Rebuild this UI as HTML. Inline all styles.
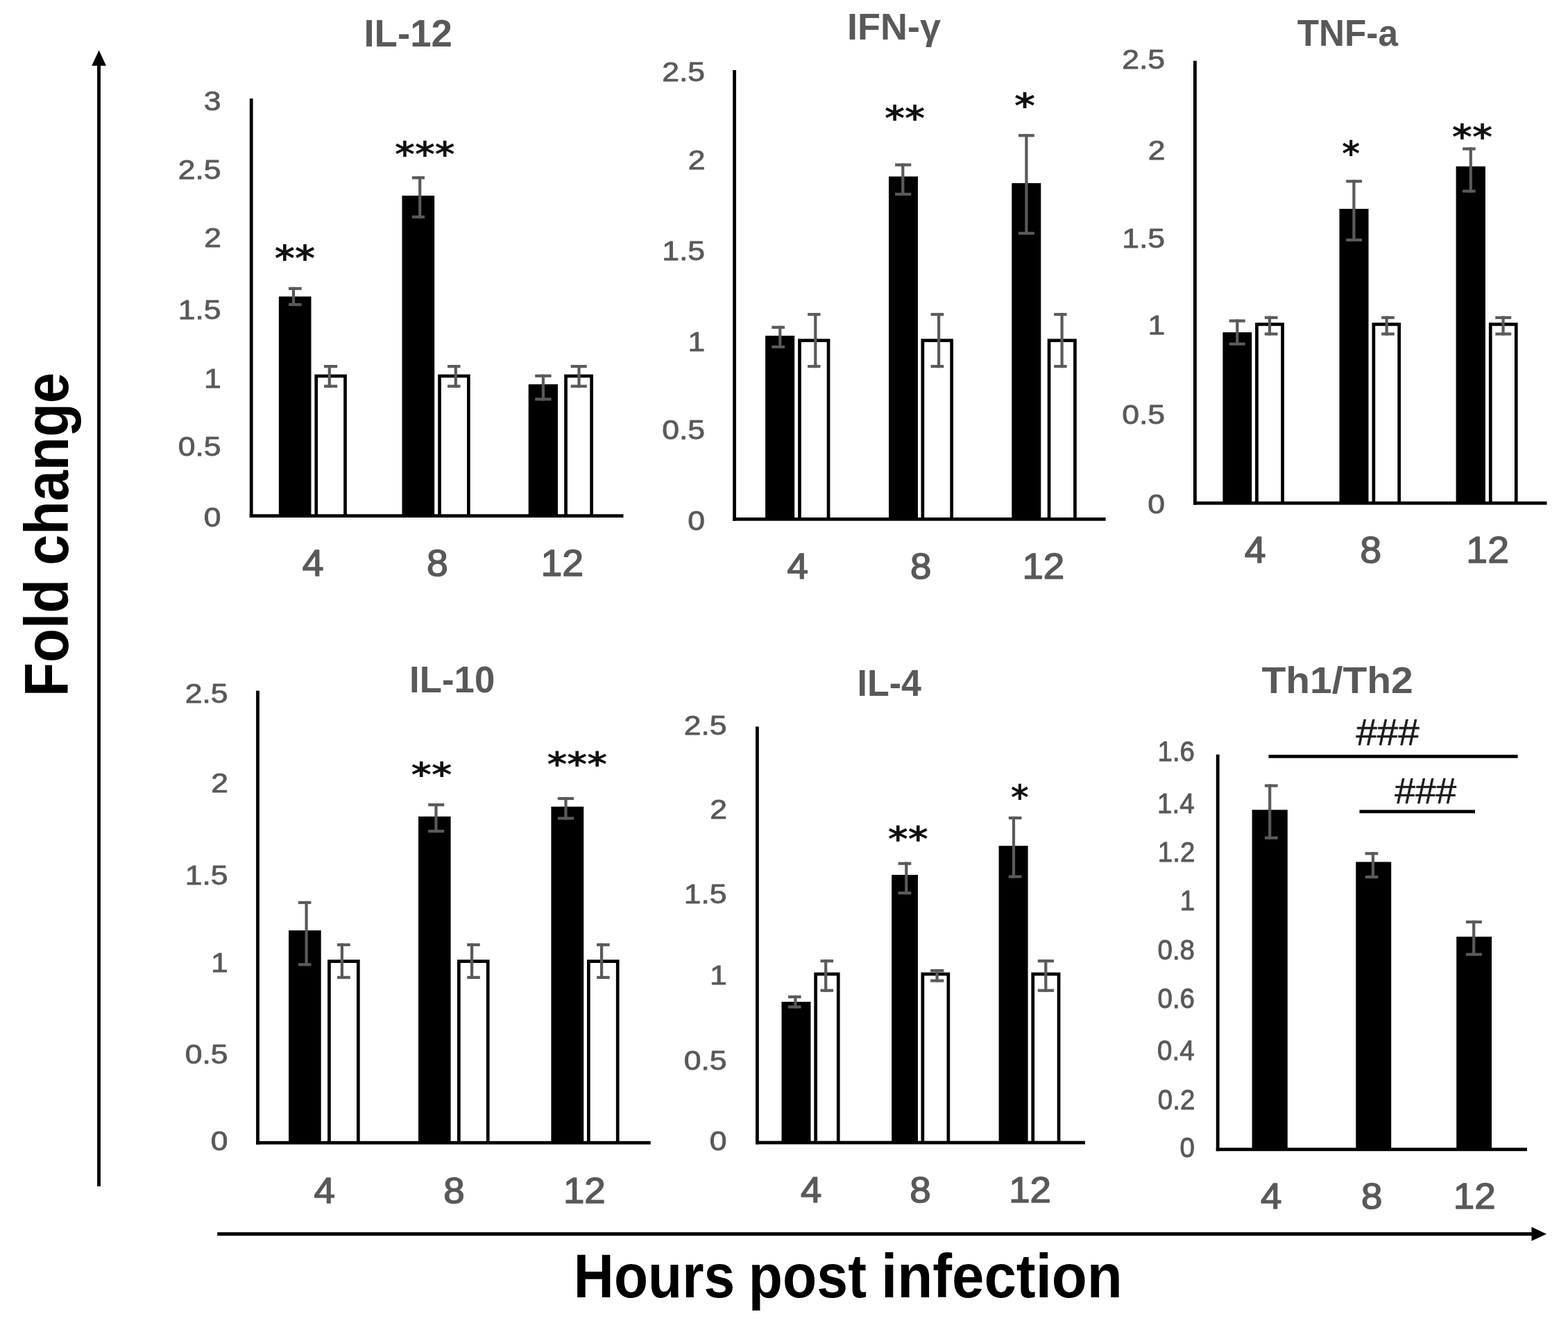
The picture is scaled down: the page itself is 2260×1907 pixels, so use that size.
<!DOCTYPE html>
<html lang="en">
<head>
<meta charset="utf-8">
<title>Cytokine fold change – hours post infection</title>
<style>
html,body{margin:0;padding:0;background:#fff;}
body{width:2260px;height:1907px;}
svg{display:block;}
svg text{font-family:"Liberation Sans",sans-serif;font-size:200px;white-space:pre;}
</style>
</head>
<body>
<svg width="2260" height="1907" viewBox="0 0 2260 1907" shape-rendering="auto">
<rect x="0" y="0" width="2260" height="1907" fill="#fff"/>
<g>
<rect x="401.90" y="427.40" width="46.60" height="316.20" fill="#000"/>
<rect x="453.40" y="539.70" width="46.50" height="203.90" fill="#000"/>
<rect x="458.10" y="544.40" width="37.10" height="199.20" fill="#fff"/>
<rect x="579.50" y="282.00" width="46.70" height="461.60" fill="#000"/>
<rect x="631.20" y="539.70" width="46.50" height="203.90" fill="#000"/>
<rect x="635.90" y="544.40" width="37.10" height="199.20" fill="#fff"/>
<rect x="761.70" y="553.90" width="42.30" height="189.70" fill="#000"/>
<rect x="813.20" y="539.70" width="41.80" height="203.90" fill="#000"/>
<rect x="817.90" y="544.40" width="32.40" height="199.20" fill="#fff"/>
<rect x="359.80" y="142.00" width="4.80" height="604.00" fill="#000"/>
<rect x="359.80" y="741.20" width="538.70" height="4.80" fill="#000"/>
<rect x="420.90" y="413.80" width="4.20" height="27.30" fill="#5a5a5a"/>
<rect x="416.00" y="413.80" width="18.70" height="4.20" fill="#5a5a5a"/>
<rect x="416.00" y="436.90" width="18.70" height="4.20" fill="#5a5a5a"/>
<rect x="472.70" y="526.00" width="4.20" height="32.80" fill="#5a5a5a"/>
<rect x="467.00" y="526.00" width="19.20" height="4.20" fill="#5a5a5a"/>
<rect x="467.00" y="554.60" width="19.20" height="4.20" fill="#5a5a5a"/>
<rect x="603.10" y="254.10" width="4.20" height="60.70" fill="#5a5a5a"/>
<rect x="593.90" y="254.10" width="18.10" height="4.20" fill="#5a5a5a"/>
<rect x="593.90" y="310.60" width="18.10" height="4.20" fill="#5a5a5a"/>
<rect x="654.70" y="526.00" width="4.20" height="32.80" fill="#5a5a5a"/>
<rect x="645.00" y="526.00" width="18.50" height="4.20" fill="#5a5a5a"/>
<rect x="645.00" y="554.60" width="18.50" height="4.20" fill="#5a5a5a"/>
<rect x="780.80" y="539.70" width="4.20" height="37.80" fill="#5a5a5a"/>
<rect x="771.20" y="539.70" width="23.40" height="4.20" fill="#5a5a5a"/>
<rect x="771.20" y="573.30" width="23.40" height="4.20" fill="#5a5a5a"/>
<rect x="832.40" y="526.00" width="4.20" height="32.80" fill="#5a5a5a"/>
<rect x="822.70" y="526.00" width="23.10" height="4.20" fill="#5a5a5a"/>
<rect x="822.70" y="554.60" width="23.10" height="4.20" fill="#5a5a5a"/>
<text transform="translate(293.63 758.61) scale(0.2228 0.1972)" font-weight="normal" fill="#595959" stroke="#595959" stroke-width="4.29" stroke-linejoin="round">0</text>
<text transform="translate(256.64 656.51) scale(0.2228 0.1972)" font-weight="normal" fill="#595959" stroke="#595959" stroke-width="4.29" stroke-linejoin="round">0.5</text>
<text transform="translate(294.07 558.61) scale(0.2228 0.1972)" font-weight="normal" fill="#595959" stroke="#595959" stroke-width="4.29" stroke-linejoin="round">1</text>
<text transform="translate(256.64 459.81) scale(0.2228 0.1972)" font-weight="normal" fill="#595959" stroke="#595959" stroke-width="4.29" stroke-linejoin="round">1.5</text>
<text transform="translate(294.30 356.41) scale(0.2228 0.1972)" font-weight="normal" fill="#595959" stroke="#595959" stroke-width="4.29" stroke-linejoin="round">2</text>
<text transform="translate(256.64 258.31) scale(0.2228 0.1972)" font-weight="normal" fill="#595959" stroke="#595959" stroke-width="4.29" stroke-linejoin="round">2.5</text>
<text transform="translate(293.85 159.11) scale(0.2228 0.1972)" font-weight="normal" fill="#595959" stroke="#595959" stroke-width="4.29" stroke-linejoin="round">3</text>
<text transform="translate(435.69 829.52) scale(0.2773 0.2641)" font-weight="normal" fill="#595959" stroke="#595959" stroke-width="5.54" stroke-linejoin="round">4</text>
<text transform="translate(615.07 829.52) scale(0.2773 0.2641)" font-weight="normal" fill="#595959" stroke="#595959" stroke-width="5.54" stroke-linejoin="round">8</text>
<text transform="translate(779.43 829.52) scale(0.2773 0.2641)" font-weight="normal" fill="#595959" stroke="#595959" stroke-width="5.54" stroke-linejoin="round">12</text>
<text transform="translate(524.45 67.10) scale(0.2731 0.2790)" font-weight="bold" fill="#595959">IL-12</text>
<text transform="translate(395.79 390.02) scale(0.2786 0.2548)" font-weight="bold" fill="#111" style="font-family:'DejaVu Sans',sans-serif">**</text>
<text transform="translate(569.10 239.66) scale(0.2757 0.2484)" font-weight="bold" fill="#111" style="font-family:'DejaVu Sans',sans-serif">***</text>
<rect x="1103.10" y="483.90" width="42.10" height="264.40" fill="#000"/>
<rect x="1150.10" y="488.40" width="46.30" height="259.90" fill="#000"/>
<rect x="1154.80" y="493.10" width="36.90" height="255.20" fill="#fff"/>
<rect x="1281.00" y="254.40" width="42.00" height="493.90" fill="#000"/>
<rect x="1327.50" y="488.40" width="46.50" height="259.90" fill="#000"/>
<rect x="1332.20" y="493.10" width="37.10" height="255.20" fill="#fff"/>
<rect x="1458.30" y="264.00" width="42.00" height="484.30" fill="#000"/>
<rect x="1509.70" y="488.40" width="42.10" height="259.90" fill="#000"/>
<rect x="1514.40" y="493.10" width="32.70" height="255.20" fill="#fff"/>
<rect x="1056.20" y="101.00" width="4.80" height="649.70" fill="#000"/>
<rect x="1056.20" y="745.90" width="537.40" height="4.80" fill="#000"/>
<rect x="1122.20" y="469.70" width="4.20" height="32.40" fill="#5a5a5a"/>
<rect x="1112.30" y="469.70" width="18.70" height="4.20" fill="#5a5a5a"/>
<rect x="1112.30" y="497.90" width="18.70" height="4.20" fill="#5a5a5a"/>
<rect x="1173.20" y="451.10" width="4.20" height="79.10" fill="#5a5a5a"/>
<rect x="1164.10" y="451.10" width="18.40" height="4.20" fill="#5a5a5a"/>
<rect x="1164.10" y="526.00" width="18.40" height="4.20" fill="#5a5a5a"/>
<rect x="1299.20" y="235.50" width="4.20" height="46.50" fill="#5a5a5a"/>
<rect x="1290.10" y="235.50" width="23.20" height="4.20" fill="#5a5a5a"/>
<rect x="1290.10" y="277.80" width="23.20" height="4.20" fill="#5a5a5a"/>
<rect x="1351.00" y="451.10" width="4.20" height="79.10" fill="#5a5a5a"/>
<rect x="1341.60" y="451.10" width="18.70" height="4.20" fill="#5a5a5a"/>
<rect x="1341.60" y="526.00" width="18.70" height="4.20" fill="#5a5a5a"/>
<rect x="1477.30" y="193.20" width="4.20" height="145.20" fill="#5a5a5a"/>
<rect x="1468.00" y="193.20" width="22.80" height="4.20" fill="#5a5a5a"/>
<rect x="1468.00" y="334.20" width="22.80" height="4.20" fill="#5a5a5a"/>
<rect x="1528.50" y="451.10" width="4.20" height="79.10" fill="#5a5a5a"/>
<rect x="1519.20" y="451.10" width="18.40" height="4.20" fill="#5a5a5a"/>
<rect x="1519.20" y="526.00" width="18.40" height="4.20" fill="#5a5a5a"/>
<text transform="translate(991.13 763.81) scale(0.2228 0.1972)" font-weight="normal" fill="#595959" stroke="#595959" stroke-width="4.29" stroke-linejoin="round">0</text>
<text transform="translate(954.14 633.01) scale(0.2228 0.1972)" font-weight="normal" fill="#595959" stroke="#595959" stroke-width="4.29" stroke-linejoin="round">0.5</text>
<text transform="translate(991.57 505.61) scale(0.2228 0.1972)" font-weight="normal" fill="#595959" stroke="#595959" stroke-width="4.29" stroke-linejoin="round">1</text>
<text transform="translate(954.14 375.21) scale(0.2228 0.1972)" font-weight="normal" fill="#595959" stroke="#595959" stroke-width="4.29" stroke-linejoin="round">1.5</text>
<text transform="translate(991.80 244.11) scale(0.2228 0.1972)" font-weight="normal" fill="#595959" stroke="#595959" stroke-width="4.29" stroke-linejoin="round">2</text>
<text transform="translate(954.14 117.41) scale(0.2228 0.1972)" font-weight="normal" fill="#595959" stroke="#595959" stroke-width="4.29" stroke-linejoin="round">2.5</text>
<text transform="translate(1134.39 834.48) scale(0.2736 0.2606)" font-weight="normal" fill="#595959" stroke="#595959" stroke-width="5.62" stroke-linejoin="round">4</text>
<text transform="translate(1311.98 834.48) scale(0.2736 0.2606)" font-weight="normal" fill="#595959" stroke="#595959" stroke-width="5.62" stroke-linejoin="round">8</text>
<text transform="translate(1473.45 834.48) scale(0.2736 0.2606)" font-weight="normal" fill="#595959" stroke="#595959" stroke-width="5.62" stroke-linejoin="round">12</text>
<text transform="translate(1220.99 57.40) scale(0.2698 0.2710)" font-weight="bold" fill="#595959">IFN-γ</text>
<text transform="translate(1274.89 188.40) scale(0.2786 0.2527)" font-weight="bold" fill="#111" style="font-family:'DejaVu Sans',sans-serif">**</text>
<text transform="translate(1462.05 169.64) scale(0.2875 0.2516)" font-weight="bold" fill="#111" style="font-family:'DejaVu Sans',sans-serif">*</text>
<rect x="1762.40" y="479.00" width="41.80" height="246.20" fill="#000"/>
<rect x="1809.10" y="465.10" width="41.80" height="260.10" fill="#000"/>
<rect x="1813.80" y="469.80" width="32.40" height="255.40" fill="#fff"/>
<rect x="1930.50" y="301.00" width="42.00" height="424.20" fill="#000"/>
<rect x="1977.50" y="465.10" width="41.50" height="260.10" fill="#000"/>
<rect x="1982.20" y="469.80" width="32.10" height="255.40" fill="#fff"/>
<rect x="2098.60" y="239.80" width="42.30" height="485.40" fill="#000"/>
<rect x="2145.90" y="465.10" width="41.70" height="260.10" fill="#000"/>
<rect x="2150.60" y="469.80" width="32.30" height="255.40" fill="#fff"/>
<rect x="1720.00" y="87.70" width="4.80" height="639.90" fill="#000"/>
<rect x="1720.00" y="722.80" width="509.50" height="4.80" fill="#000"/>
<rect x="1781.20" y="460.40" width="4.20" height="37.50" fill="#5a5a5a"/>
<rect x="1771.60" y="460.40" width="23.10" height="4.20" fill="#5a5a5a"/>
<rect x="1771.60" y="493.70" width="23.10" height="4.20" fill="#5a5a5a"/>
<rect x="1827.90" y="455.70" width="4.20" height="27.80" fill="#5a5a5a"/>
<rect x="1822.80" y="455.70" width="18.70" height="4.20" fill="#5a5a5a"/>
<rect x="1822.80" y="479.30" width="18.70" height="4.20" fill="#5a5a5a"/>
<rect x="1949.30" y="259.20" width="4.20" height="88.80" fill="#5a5a5a"/>
<rect x="1940.20" y="259.20" width="22.90" height="4.20" fill="#5a5a5a"/>
<rect x="1940.20" y="343.80" width="22.90" height="4.20" fill="#5a5a5a"/>
<rect x="1996.50" y="455.70" width="4.20" height="27.80" fill="#5a5a5a"/>
<rect x="1991.20" y="455.70" width="18.60" height="4.20" fill="#5a5a5a"/>
<rect x="1991.20" y="479.30" width="18.60" height="4.20" fill="#5a5a5a"/>
<rect x="2117.70" y="212.40" width="4.20" height="65.20" fill="#5a5a5a"/>
<rect x="2108.10" y="212.40" width="18.60" height="4.20" fill="#5a5a5a"/>
<rect x="2108.10" y="273.40" width="18.60" height="4.20" fill="#5a5a5a"/>
<rect x="2164.40" y="455.70" width="4.20" height="27.80" fill="#5a5a5a"/>
<rect x="2155.30" y="455.70" width="22.90" height="4.20" fill="#5a5a5a"/>
<rect x="2155.30" y="479.30" width="22.90" height="4.20" fill="#5a5a5a"/>
<text transform="translate(1654.13 739.61) scale(0.2228 0.1972)" font-weight="normal" fill="#595959" stroke="#595959" stroke-width="4.29" stroke-linejoin="round">0</text>
<text transform="translate(1617.14 610.81) scale(0.2228 0.1972)" font-weight="normal" fill="#595959" stroke="#595959" stroke-width="4.29" stroke-linejoin="round">0.5</text>
<text transform="translate(1654.57 482.41) scale(0.2228 0.1972)" font-weight="normal" fill="#595959" stroke="#595959" stroke-width="4.29" stroke-linejoin="round">1</text>
<text transform="translate(1617.14 356.61) scale(0.2228 0.1972)" font-weight="normal" fill="#595959" stroke="#595959" stroke-width="4.29" stroke-linejoin="round">1.5</text>
<text transform="translate(1654.80 230.41) scale(0.2228 0.1972)" font-weight="normal" fill="#595959" stroke="#595959" stroke-width="4.29" stroke-linejoin="round">2</text>
<text transform="translate(1617.14 99.01) scale(0.2228 0.1972)" font-weight="normal" fill="#595959" stroke="#595959" stroke-width="4.29" stroke-linejoin="round">2.5</text>
<text transform="translate(1793.69 811.22) scale(0.2773 0.2641)" font-weight="normal" fill="#595959" stroke="#595959" stroke-width="5.54" stroke-linejoin="round">4</text>
<text transform="translate(1960.27 811.22) scale(0.2773 0.2641)" font-weight="normal" fill="#595959" stroke="#595959" stroke-width="5.54" stroke-linejoin="round">8</text>
<text transform="translate(2113.33 811.22) scale(0.2773 0.2641)" font-weight="normal" fill="#595959" stroke="#595959" stroke-width="5.54" stroke-linejoin="round">12</text>
<text transform="translate(1869.79 65.80) scale(0.2562 0.2725)" font-weight="bold" fill="#595959">TNF-a</text>
<text transform="translate(1934.31 239.08) scale(0.2469 0.2505)" font-weight="bold" fill="#111" style="font-family:'DejaVu Sans',sans-serif">*</text>
<text transform="translate(2092.78 214.90) scale(0.2791 0.2473)" font-weight="bold" fill="#111" style="font-family:'DejaVu Sans',sans-serif">**</text>
<rect x="416.10" y="1341.10" width="46.60" height="306.10" fill="#000"/>
<rect x="472.10" y="1383.30" width="46.60" height="263.90" fill="#000"/>
<rect x="476.80" y="1388.00" width="37.20" height="259.20" fill="#fff"/>
<rect x="603.00" y="1176.90" width="46.60" height="470.30" fill="#000"/>
<rect x="659.00" y="1383.30" width="46.60" height="263.90" fill="#000"/>
<rect x="663.70" y="1388.00" width="37.20" height="259.20" fill="#fff"/>
<rect x="794.40" y="1162.70" width="46.90" height="484.50" fill="#000"/>
<rect x="846.00" y="1383.30" width="46.60" height="263.90" fill="#000"/>
<rect x="850.70" y="1388.00" width="37.20" height="259.20" fill="#fff"/>
<rect x="369.10" y="995.60" width="4.80" height="654.00" fill="#000"/>
<rect x="369.10" y="1644.80" width="568.60" height="4.80" fill="#000"/>
<rect x="439.50" y="1298.90" width="4.20" height="93.50" fill="#5a5a5a"/>
<rect x="429.90" y="1298.90" width="18.60" height="4.20" fill="#5a5a5a"/>
<rect x="429.90" y="1388.20" width="18.60" height="4.20" fill="#5a5a5a"/>
<rect x="490.80" y="1359.70" width="4.20" height="51.30" fill="#5a5a5a"/>
<rect x="486.00" y="1359.70" width="18.80" height="4.20" fill="#5a5a5a"/>
<rect x="486.00" y="1406.80" width="18.80" height="4.20" fill="#5a5a5a"/>
<rect x="626.40" y="1158.00" width="4.20" height="42.20" fill="#5a5a5a"/>
<rect x="617.20" y="1158.00" width="23.00" height="4.20" fill="#5a5a5a"/>
<rect x="617.20" y="1196.00" width="23.00" height="4.20" fill="#5a5a5a"/>
<rect x="678.00" y="1359.70" width="4.20" height="51.30" fill="#5a5a5a"/>
<rect x="673.20" y="1359.70" width="18.60" height="4.20" fill="#5a5a5a"/>
<rect x="673.20" y="1406.80" width="18.60" height="4.20" fill="#5a5a5a"/>
<rect x="813.40" y="1148.90" width="4.20" height="32.70" fill="#5a5a5a"/>
<rect x="803.80" y="1148.90" width="23.30" height="4.20" fill="#5a5a5a"/>
<rect x="803.80" y="1177.40" width="23.30" height="4.20" fill="#5a5a5a"/>
<rect x="865.00" y="1359.70" width="4.20" height="51.30" fill="#5a5a5a"/>
<rect x="860.10" y="1359.70" width="18.60" height="4.20" fill="#5a5a5a"/>
<rect x="860.10" y="1406.80" width="18.60" height="4.20" fill="#5a5a5a"/>
<text transform="translate(303.63 1658.41) scale(0.2228 0.1972)" font-weight="normal" fill="#595959" stroke="#595959" stroke-width="4.29" stroke-linejoin="round">0</text>
<text transform="translate(266.64 1532.51) scale(0.2228 0.1972)" font-weight="normal" fill="#595959" stroke="#595959" stroke-width="4.29" stroke-linejoin="round">0.5</text>
<text transform="translate(304.07 1401.41) scale(0.2228 0.1972)" font-weight="normal" fill="#595959" stroke="#595959" stroke-width="4.29" stroke-linejoin="round">1</text>
<text transform="translate(266.64 1274.51) scale(0.2228 0.1972)" font-weight="normal" fill="#595959" stroke="#595959" stroke-width="4.29" stroke-linejoin="round">1.5</text>
<text transform="translate(304.30 1141.81) scale(0.2228 0.1972)" font-weight="normal" fill="#595959" stroke="#595959" stroke-width="4.29" stroke-linejoin="round">2</text>
<text transform="translate(266.64 1012.61) scale(0.2228 0.1972)" font-weight="normal" fill="#595959" stroke="#595959" stroke-width="4.29" stroke-linejoin="round">2.5</text>
<text transform="translate(452.39 1734.18) scale(0.2736 0.2606)" font-weight="normal" fill="#595959" stroke="#595959" stroke-width="5.62" stroke-linejoin="round">4</text>
<text transform="translate(639.18 1734.18) scale(0.2736 0.2606)" font-weight="normal" fill="#595959" stroke="#595959" stroke-width="5.62" stroke-linejoin="round">8</text>
<text transform="translate(811.95 1734.18) scale(0.2736 0.2606)" font-weight="normal" fill="#595959" stroke="#595959" stroke-width="5.62" stroke-linejoin="round">12</text>
<text transform="translate(590.07 998.20) scale(0.2639 0.2696)" font-weight="bold" fill="#595959">IL-10</text>
<text transform="translate(592.47 1132.62) scale(0.2816 0.2441)" font-weight="bold" fill="#111" style="font-family:'DejaVu Sans',sans-serif">**</text>
<text transform="translate(788.50 1117.51) scale(0.2761 0.2366)" font-weight="bold" fill="#111" style="font-family:'DejaVu Sans',sans-serif">***</text>
<rect x="1126.50" y="1444.00" width="42.00" height="203.00" fill="#000"/>
<rect x="1173.30" y="1401.70" width="37.30" height="245.30" fill="#000"/>
<rect x="1178.00" y="1406.40" width="27.90" height="240.60" fill="#fff"/>
<rect x="1285.20" y="1261.00" width="37.80" height="386.00" fill="#000"/>
<rect x="1327.50" y="1401.70" width="41.70" height="245.30" fill="#000"/>
<rect x="1332.20" y="1406.40" width="32.30" height="240.60" fill="#fff"/>
<rect x="1439.60" y="1219.20" width="42.00" height="427.80" fill="#000"/>
<rect x="1486.40" y="1401.70" width="42.00" height="245.30" fill="#000"/>
<rect x="1491.10" y="1406.40" width="32.60" height="240.60" fill="#fff"/>
<rect x="1089.00" y="1047.30" width="4.80" height="602.10" fill="#000"/>
<rect x="1089.00" y="1644.60" width="475.00" height="4.80" fill="#000"/>
<rect x="1144.30" y="1434.80" width="4.20" height="18.70" fill="#5a5a5a"/>
<rect x="1136.00" y="1434.80" width="18.60" height="4.20" fill="#5a5a5a"/>
<rect x="1136.00" y="1449.30" width="18.60" height="4.20" fill="#5a5a5a"/>
<rect x="1188.10" y="1383.10" width="4.20" height="46.70" fill="#5a5a5a"/>
<rect x="1182.50" y="1383.10" width="18.60" height="4.20" fill="#5a5a5a"/>
<rect x="1182.50" y="1425.60" width="18.60" height="4.20" fill="#5a5a5a"/>
<rect x="1304.20" y="1242.60" width="4.20" height="46.70" fill="#5a5a5a"/>
<rect x="1294.60" y="1242.60" width="18.70" height="4.20" fill="#5a5a5a"/>
<rect x="1294.60" y="1285.10" width="18.70" height="4.20" fill="#5a5a5a"/>
<rect x="1348.50" y="1397.00" width="4.20" height="18.70" fill="#5a5a5a"/>
<rect x="1341.10" y="1397.00" width="19.20" height="4.20" fill="#5a5a5a"/>
<rect x="1341.10" y="1411.50" width="19.20" height="4.20" fill="#5a5a5a"/>
<rect x="1458.90" y="1176.90" width="4.20" height="88.80" fill="#5a5a5a"/>
<rect x="1453.80" y="1176.90" width="18.60" height="4.20" fill="#5a5a5a"/>
<rect x="1453.80" y="1261.50" width="18.60" height="4.20" fill="#5a5a5a"/>
<rect x="1505.20" y="1383.10" width="4.20" height="46.70" fill="#5a5a5a"/>
<rect x="1495.80" y="1383.10" width="23.20" height="4.20" fill="#5a5a5a"/>
<rect x="1495.80" y="1425.60" width="23.20" height="4.20" fill="#5a5a5a"/>
<text transform="translate(1022.63 1658.41) scale(0.2228 0.1972)" font-weight="normal" fill="#595959" stroke="#595959" stroke-width="4.29" stroke-linejoin="round">0</text>
<text transform="translate(985.64 1542.01) scale(0.2228 0.1972)" font-weight="normal" fill="#595959" stroke="#595959" stroke-width="4.29" stroke-linejoin="round">0.5</text>
<text transform="translate(1023.07 1418.61) scale(0.2228 0.1972)" font-weight="normal" fill="#595959" stroke="#595959" stroke-width="4.29" stroke-linejoin="round">1</text>
<text transform="translate(985.64 1301.61) scale(0.2228 0.1972)" font-weight="normal" fill="#595959" stroke="#595959" stroke-width="4.29" stroke-linejoin="round">1.5</text>
<text transform="translate(1023.30 1179.71) scale(0.2228 0.1972)" font-weight="normal" fill="#595959" stroke="#595959" stroke-width="4.29" stroke-linejoin="round">2</text>
<text transform="translate(985.64 1059.11) scale(0.2228 0.1972)" font-weight="normal" fill="#595959" stroke="#595959" stroke-width="4.29" stroke-linejoin="round">2.5</text>
<text transform="translate(1154.09 1733.48) scale(0.2736 0.2606)" font-weight="normal" fill="#595959" stroke="#595959" stroke-width="5.62" stroke-linejoin="round">4</text>
<text transform="translate(1311.18 1733.48) scale(0.2736 0.2606)" font-weight="normal" fill="#595959" stroke="#595959" stroke-width="5.62" stroke-linejoin="round">8</text>
<text transform="translate(1454.15 1733.48) scale(0.2736 0.2606)" font-weight="normal" fill="#595959" stroke="#595959" stroke-width="5.62" stroke-linejoin="round">12</text>
<text transform="translate(1235.62 1002.80) scale(0.2598 0.2696)" font-weight="bold" fill="#595959">IL-4</text>
<text transform="translate(1279.69 1227.08) scale(0.2776 0.2452)" font-weight="bold" fill="#111" style="font-family:'DejaVu Sans',sans-serif">**</text>
<text transform="translate(1457.12 1166.60) scale(0.2458 0.2473)" font-weight="bold" fill="#111" style="font-family:'DejaVu Sans',sans-serif">*</text>
<rect x="1804.60" y="1167.30" width="51.20" height="489.50" fill="#000"/>
<rect x="1954.30" y="1242.40" width="50.90" height="414.40" fill="#000"/>
<rect x="2099.20" y="1350.20" width="50.80" height="306.60" fill="#000"/>
<rect x="1752.80" y="1087.60" width="4.80" height="571.60" fill="#000"/>
<rect x="1752.80" y="1654.40" width="448.20" height="4.80" fill="#000"/>
<rect x="1828.10" y="1130.40" width="4.20" height="79.40" fill="#5a5a5a"/>
<rect x="1822.90" y="1130.40" width="18.70" height="4.20" fill="#5a5a5a"/>
<rect x="1822.90" y="1205.60" width="18.70" height="4.20" fill="#5a5a5a"/>
<rect x="1976.80" y="1228.20" width="4.20" height="38.00" fill="#5a5a5a"/>
<rect x="1967.60" y="1228.20" width="18.70" height="4.20" fill="#5a5a5a"/>
<rect x="1967.60" y="1262.00" width="18.70" height="4.20" fill="#5a5a5a"/>
<rect x="2122.10" y="1326.80" width="4.20" height="51.00" fill="#5a5a5a"/>
<rect x="2112.90" y="1326.80" width="22.90" height="4.20" fill="#5a5a5a"/>
<rect x="2112.90" y="1373.60" width="22.90" height="4.20" fill="#5a5a5a"/>
<text transform="translate(1700.46 1668.45) scale(0.1927 0.2007)" font-weight="normal" fill="#595959" stroke="#595959" stroke-width="4.58" stroke-linejoin="round">0</text>
<text transform="translate(1668.86 1598.55) scale(0.1927 0.2007)" font-weight="normal" fill="#595959" stroke="#595959" stroke-width="4.58" stroke-linejoin="round">0.2</text>
<text transform="translate(1668.09 1528.05) scale(0.1927 0.2007)" font-weight="normal" fill="#595959" stroke="#595959" stroke-width="4.58" stroke-linejoin="round">0.4</text>
<text transform="translate(1668.48 1453.25) scale(0.1927 0.2007)" font-weight="normal" fill="#595959" stroke="#595959" stroke-width="4.58" stroke-linejoin="round">0.6</text>
<text transform="translate(1668.48 1382.85) scale(0.1927 0.2007)" font-weight="normal" fill="#595959" stroke="#595959" stroke-width="4.58" stroke-linejoin="round">0.8</text>
<text transform="translate(1700.85 1312.35) scale(0.1927 0.2007)" font-weight="normal" fill="#595959" stroke="#595959" stroke-width="4.58" stroke-linejoin="round">1</text>
<text transform="translate(1668.86 1242.45) scale(0.1927 0.2007)" font-weight="normal" fill="#595959" stroke="#595959" stroke-width="4.58" stroke-linejoin="round">1.2</text>
<text transform="translate(1668.09 1172.25) scale(0.1927 0.2007)" font-weight="normal" fill="#595959" stroke="#595959" stroke-width="4.58" stroke-linejoin="round">1.4</text>
<text transform="translate(1668.48 1097.25) scale(0.1927 0.2007)" font-weight="normal" fill="#595959" stroke="#595959" stroke-width="4.58" stroke-linejoin="round">1.6</text>
<text transform="translate(1816.89 1742.48) scale(0.2736 0.2606)" font-weight="normal" fill="#595959" stroke="#595959" stroke-width="5.62" stroke-linejoin="round">4</text>
<text transform="translate(1961.98 1742.48) scale(0.2736 0.2606)" font-weight="normal" fill="#595959" stroke="#595959" stroke-width="5.62" stroke-linejoin="round">8</text>
<text transform="translate(2094.75 1742.48) scale(0.2736 0.2606)" font-weight="normal" fill="#595959" stroke="#595959" stroke-width="5.62" stroke-linejoin="round">12</text>
<text transform="translate(1818.43 998.80) scale(0.2849 0.2717)" font-weight="bold" fill="#595959">Th1/Th2</text>
<text transform="translate(1954.53 1073.50) scale(0.2725 0.2664)" font-weight="normal" fill="#1a1a1a" stroke="#1a1a1a" stroke-width="2.23" stroke-linejoin="round">###</text>
<text transform="translate(2010.23 1157.50) scale(0.2668 0.2628)" font-weight="normal" fill="#1a1a1a" stroke="#1a1a1a" stroke-width="2.27" stroke-linejoin="round">###</text>
<rect x="1828.50" y="1087.90" width="359.10" height="4.80" fill="#000"/>
<rect x="1959.50" y="1167.40" width="166.50" height="4.80" fill="#000"/>
<text transform="translate(0 1870.30) scale(1 0.4435)" font-weight="bold" fill="#000"><tspan x="826.87" textLength="232.28" lengthAdjust="spacingAndGlyphs">Hours</tspan> <tspan x="1078.86" textLength="170.12" lengthAdjust="spacingAndGlyphs">post</tspan> <tspan x="1269.96" textLength="347.89" lengthAdjust="spacingAndGlyphs">infection</tspan></text>
<text transform="translate(98.00 998.80) rotate(-90) scale(1 0.4420)" font-weight="bold" fill="#000"><tspan x="-5.21" textLength="169.15" lengthAdjust="spacingAndGlyphs">Fold</tspan> <tspan x="183.93" textLength="277.84" lengthAdjust="spacingAndGlyphs">change</tspan></text>
<rect x="140.1" y="84" width="4.9" height="1626" fill="#000"/>
<polygon points="142.6,72.5 153,94.7 132.2,94.7" fill="#000"/>
<rect x="313.2" y="1776.2" width="1901" height="5" fill="#000"/>
<polygon points="2229,1778.7 2207.5,1768.6 2207.5,1788.8" fill="#000"/>
</g>
</svg>
</body>
</html>
